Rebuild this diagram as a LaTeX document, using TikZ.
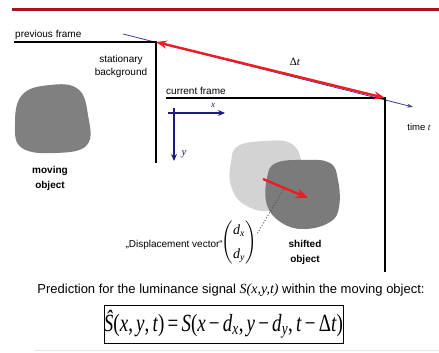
\documentclass[tikz,border=0pt]{standalone}
\usepackage{fontspec}
\usepackage{amsmath}
\setmainfont{Liberation Sans}
\newfontfamily\tms{Liberation Serif}
\usetikzlibrary{arrows.meta}
\newcommand\tv[1]{\text{\tms\itshape #1}}
\definecolor{toprule}{HTML}{A3161E}
\definecolor{arrowred}{HTML}{EE1C24}
\definecolor{navy}{HTML}{1C1C7C}
\definecolor{timeblue}{HTML}{3C3C9C}
\definecolor{blobdark}{HTML}{808080}
\definecolor{bloblight}{HTML}{D3D3D3}
\begin{document}
\begin{tikzpicture}[x=1pt,y=-1pt,
  lbl/.style={font=\fontsize{10}{13}\selectfont, inner sep=0pt, align=center},
  boldlbl/.style={font=\fontsize{10}{15}\selectfont\bfseries, inner sep=0pt, align=center},
  frameline/.style={line width=2.2pt, black},
  axisline/.style={navy, line width=1.3pt, -{Stealth[length=7pt,width=6pt]}},
  redarrow/.style={arrowred, line width=2.4pt},
  blob/.style={smooth cycle, tension=0.7}]
\useasboundingbox (0,0) rectangle (439,353);
% top rule
\coordinate (r0) at (12,10); \coordinate (r1) at (439,10);
\draw[toprule, line width=3pt] (r0) -- (r1);
% frame corners
\coordinate (p0) at (14,42); \coordinate (pc) at (156,42); \coordinate (pb) at (156,163);
\coordinate (c0) at (166,98); \coordinate (cc) at (385,98); \coordinate (cb) at (385,272);
\coordinate (tstart) at (123,34); \coordinate (tend) at (413,107);
% blobs
\fill[blobdark] plot[blob] coordinates {(22,95) (50,85) (78,89) (88,115) (87,145) (55,153) (22,148) (15,125)};
\fill[bloblight] plot[blob] coordinates {(238,146) (265,141) (290,143) (301,160) (300,190) (272,210) (245,205) (231,186) (231,162)};
\fill[blobdark!96!black] plot[blob] coordinates {(276,163) (305,160) (330,163) (338,180) (339,207) (330,222) (305,229) (282,223) (267,205) (267,178)};
% time axis
\draw[timeblue, line width=0.8pt, -{Stealth[length=6pt,width=4pt]}] (tstart) -- (tend);
% frames
\draw[frameline] (p0) -- (pc) -- (pb);
\draw[frameline] (c0) -- (cc) -- (cb);
\draw[redarrow, {Stealth[length=11pt,width=8pt]}-{Stealth[length=11pt,width=8pt]}] (pc) -- (cc);
% labels
\node[lbl, anchor=base west] (prevlbl) at (15,38) {previous frame};
\node[lbl] (stat) at (121,66) {stationary\\background};
\node[lbl, anchor=base west] (curlbl) at (166,94) {current frame};
\node[font=\tms\fontsize{11}{13}\selectfont, inner sep=0pt] (dt) at (295,62) {Δ\textit{t}};
\node[font=\fontsize{9.5}{11}\selectfont, inner sep=0pt] (timelbl) at (419,127) {time {\tms\itshape t}};
% axes
\coordinate (xa0) at (168,113); \coordinate (xa1) at (225,113);
\coordinate (ya0) at (174,108); \coordinate (ya1) at (174,161);
\draw[axisline] (xa0) -- (xa1);
\draw[axisline] (ya0) -- (ya1);
\node[navy, font=\tms\itshape\fontsize{9}{10}\selectfont, inner sep=0pt] (xl) at (213,105) {x};
\node[navy, font=\tms\itshape\fontsize{11}{12}\selectfont, inner sep=0pt] (yl) at (184,154) {y};
% object labels
\node[boldlbl] (movlbl) at (50,178) {moving\\object};
\node[boldlbl] (shiftlbl) at (305,252) {shifted\\object};
% displacement
\coordinate (da) at (263,179); \coordinate (db) at (308,198);
\draw[redarrow, -{Stealth[length=12pt,width=10pt]}] (da) -- (db);
\coordinate (dot0) at (283,190); \coordinate (dot1) at (257,234);
\draw[dotted, black!70, line width=0.9pt] (dot0) -- (dot1);
\node[lbl, anchor=east] (disp) at (223,245) {„Displacement vector“};
\node[inner sep=0pt, font=\fontsize{14}{16}\selectfont] (vec) at (239,243) {\arraycolsep=0.5pt$\left(\begin{array}{c}\tv{d}_{\tv{x}}\\[8pt] \tv{d}_{\tv{y}}\end{array}\right)$};
% prediction
\node[font=\fontsize{13}{15}\selectfont, inner sep=0pt] (pred) at (231,290) {Prediction for the luminance signal {\tms\itshape\fontsize{14}{15}\selectfont S(x,y,t)} within the moving object:};
\node[draw, line width=0.8pt, minimum width=237pt, minimum height=38pt, inner sep=0pt, font=\tms\fontsize{19}{20}\selectfont] (formula) at (223.5,324)
 {\scalebox{1}[1.3]{\textit{Ŝ}(\textit{x},\,\textit{y},\,\textit{t})\,=\,\textit{S}(\textit{x}\,−\,\textit{d}\textsubscript{\textit{x}},\,\textit{y}\,−\,\textit{d}\textsubscript{\textit{y}},\,\textit{t}\,−\,Δ\textit{t})}};
\coordinate (g0) at (35,350); \coordinate (g1) at (439,350);
\draw[black!10, line width=1pt] (g0) -- (g1);
\end{tikzpicture}
\end{document}
